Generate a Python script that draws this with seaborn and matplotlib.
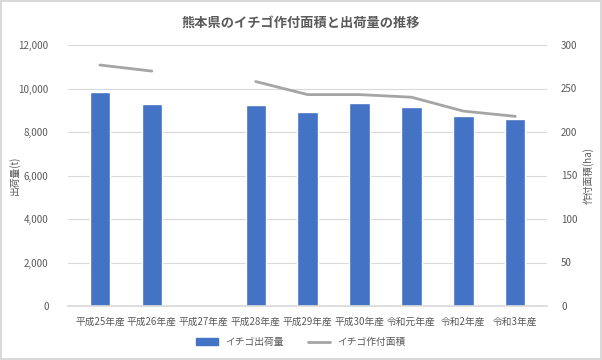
import numpy as np
import pandas as pd
import seaborn as sns
import matplotlib.pyplot as plt
from matplotlib.lines import Line2D
from matplotlib.patches import Patch

sns.set_theme(style='white')
plt.rcParams['font.family'] = ['Noto Sans CJK JP', 'DejaVu Sans']

years = ['平成25年産', '平成26年産', '平成27年産', '平成28年産', '平成29年産',
         '平成30年産', '令和元年産', '令和2年産', '令和3年産']
shipment = [9860, 9270, np.nan, 9230, 8940, 9340, 9160, 8730, 8590]
area = [277, 270, np.nan, 258, 243, 243, 240, 224, 218]

df = pd.DataFrame({'year': years, 'shipment': shipment, 'area': area})

grey = '#595959'
bar_col = '#4472C4'
line_col = '#A5A5A5'

fig = plt.figure(figsize=(6.02, 3.6), dpi=100, edgecolor='#D9D9D9', linewidth=1.5)
ax = fig.add_axes([0.113, 0.15, 0.796, 0.725])

sns.barplot(data=df, x='year', y='shipment', color=bar_col, width=0.39,
            saturation=1, ax=ax)
ax.set_ylim(0, 12000)
ax.set_yticks(range(0, 12001, 2000))
ax.set_yticklabels([f'{v:,}' for v in range(0, 12001, 2000)])
ax.yaxis.grid(True, color='#D9D9D9', linewidth=0.8)
ax.set_axisbelow(True)
ax.set_xlabel('')
ax.set_ylabel('出荷量(t)', fontsize=7, color=grey)
ax.yaxis.set_label_coords(-0.1, 0.5)

ax2 = ax.twinx()
ax2.plot(range(len(years)), df['area'], color=line_col, linewidth=2)
ax2.set_ylim(0, 300)
ax2.set_yticks(range(0, 301, 50))
ax2.set_ylabel('作付面積(ha)', fontsize=7, color=grey)
ax2.yaxis.set_label_coords(1.075, 0.5)

for a in (ax, ax2):
    for s in a.spines.values():
        s.set_visible(False)
    a.tick_params(axis='both', length=0, labelsize=7, colors=grey)
ax.spines['bottom'].set_visible(True)
ax.spines['bottom'].set_color('#D9D9D9')
ax.tick_params(axis='x', pad=8)
ax.tick_params(axis='y', pad=14)
ax2.tick_params(axis='y', pad=10)

fig.suptitle('熊本県のイチゴ作付面積と出荷量の推移', fontsize=9.5, fontweight='bold',
             color=grey, y=0.955)

handles = [Patch(color=bar_col, label='イチゴ出荷量'),
           Line2D([], [], color=line_col, linewidth=2, label='イチゴ作付面積')]
fig.legend(handles=handles, loc='center', bbox_to_anchor=(0.5, 0.05), ncol=2,
           frameon=False, fontsize=7, labelcolor=grey, handlelength=2.2,
           handleheight=0.6, columnspacing=2.5)

fig.savefig('out.png', dpi=100, edgecolor=fig.get_edgecolor())
